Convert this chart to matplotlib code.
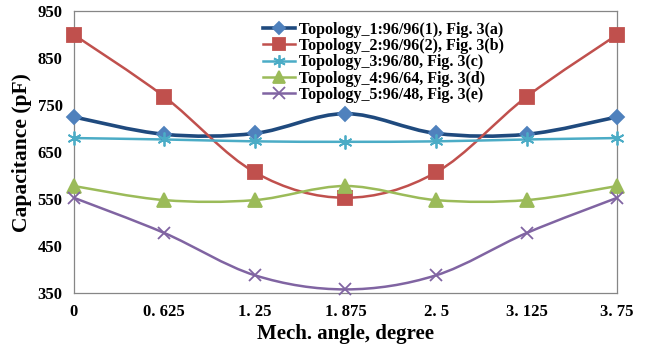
import numpy as np
import matplotlib
matplotlib.use('Agg')
import matplotlib.pyplot as plt
from matplotlib.path import Path
from matplotlib.patches import PathPatch
from matplotlib.lines import Line2D

## Global Setting
plt.rcParams['font.family'] = ['Liberation Serif', 'DejaVu Serif']
plt.rcParams['font.weight'] = 'bold'

## Data
angles = ['0', '0. 625', '1. 25', '1. 875', '2. 5', '3. 125', '3. 75']
topo1 = [725, 688, 690, 732, 690, 688, 725]
topo2 = [900, 768, 607, 553, 607, 768, 900]
topo3 = [680, 677, 673, 672, 673, 677, 680]
topo4 = [578, 548, 548, 578, 548, 548, 578]
topo5 = [553, 478, 388, 358, 388, 478, 553]
names = ['Topology_1:96/96(1), Fig. 3(a)',
         'Topology_2:96/96(2), Fig. 3(b)',
         'Topology_3:96/80, Fig. 3(c)',
         'Topology_4:96/64, Fig. 3(d)',
         'Topology_5:96/48, Fig. 3(e)']

# style per series: line colour, marker colour, marker, marker size, line width
styles = [
    ('#1F4A7E', '#4F81BD', 'D', 7, 2.6),
    ('#C0504D', '#C0504D', 's', 10, 1.8),
    ('#4BACC6', '#4BACC6', (6, 2, 0), 10, 1.8),
    ('#9BBB59', '#9BBB59', '^', 10, 1.8),
    ('#8064A2', '#8064A2', 'x', 9, 1.8),
]


def smooth_path(xs, ys):
    # Excel-like smoothed line (Catmull-Rom as cubic Bezier)
    pts = np.column_stack([xs, ys]).astype(float)
    ext = np.vstack([pts[0], pts, pts[-1]])
    verts = [pts[0]]
    codes = [Path.MOVETO]
    for i in range(len(pts) - 1):
        p0, p1, p2, p3 = ext[i], ext[i + 1], ext[i + 2], ext[i + 3]
        verts += [p1 + (p2 - p0) / 6, p2 - (p3 - p1) / 6, p2]
        codes += [Path.CURVE4] * 3
    return Path(verts, codes)


## Plot Statement
fig = plt.figure(figsize=(6.47, 3.49), dpi=100)
ax = fig.add_axes([0.114, 0.160, 0.840, 0.808])

x = np.arange(len(angles))
handles = []
for ys, name, (lc, mc, mk, ms, lw) in zip([topo1, topo2, topo3, topo4, topo5], names, styles):
    ax.add_patch(PathPatch(smooth_path(x, ys), fill=False, edgecolor=lc, lw=lw,
                           capstyle='round', joinstyle='round', zorder=2))
    ax.plot(x, ys, linestyle='none', marker=mk, ms=ms, color=mc,
            markeredgecolor=mc, markeredgewidth=1.3, zorder=3, clip_on=False)
    handles.append(Line2D([], [], color=lc, lw=lw, marker=mk, ms=ms - 1,
                          markerfacecolor=mc, markeredgecolor=mc, markeredgewidth=1.3))

ax.set_xlim(0, len(angles) - 1)
ax.set_ylim(350, 950)
ax.set_xticks(x)
ax.set_xticklabels(angles)
ax.set_yticks(np.arange(350, 951, 100))
ax.tick_params(length=0, labelsize=12, pad=8)
for s in ax.spines.values():
    s.set_color('#868686')
    s.set_linewidth(0.9)

ax.set_xlabel('Mech. angle, degree', fontsize=15, fontweight='bold', labelpad=3)
ax.set_ylabel('Capacitance (pF)', fontsize=15.5, fontweight='bold', labelpad=4)

ax.legend(handles, names, loc='upper left', bbox_to_anchor=(0.33, 1.0),
          frameon=False, fontsize=11.5, handlelength=2.0, handletextpad=0.2,
          labelspacing=0.02, borderaxespad=0.25)

## Output
fig.savefig('out.png', dpi=100)
